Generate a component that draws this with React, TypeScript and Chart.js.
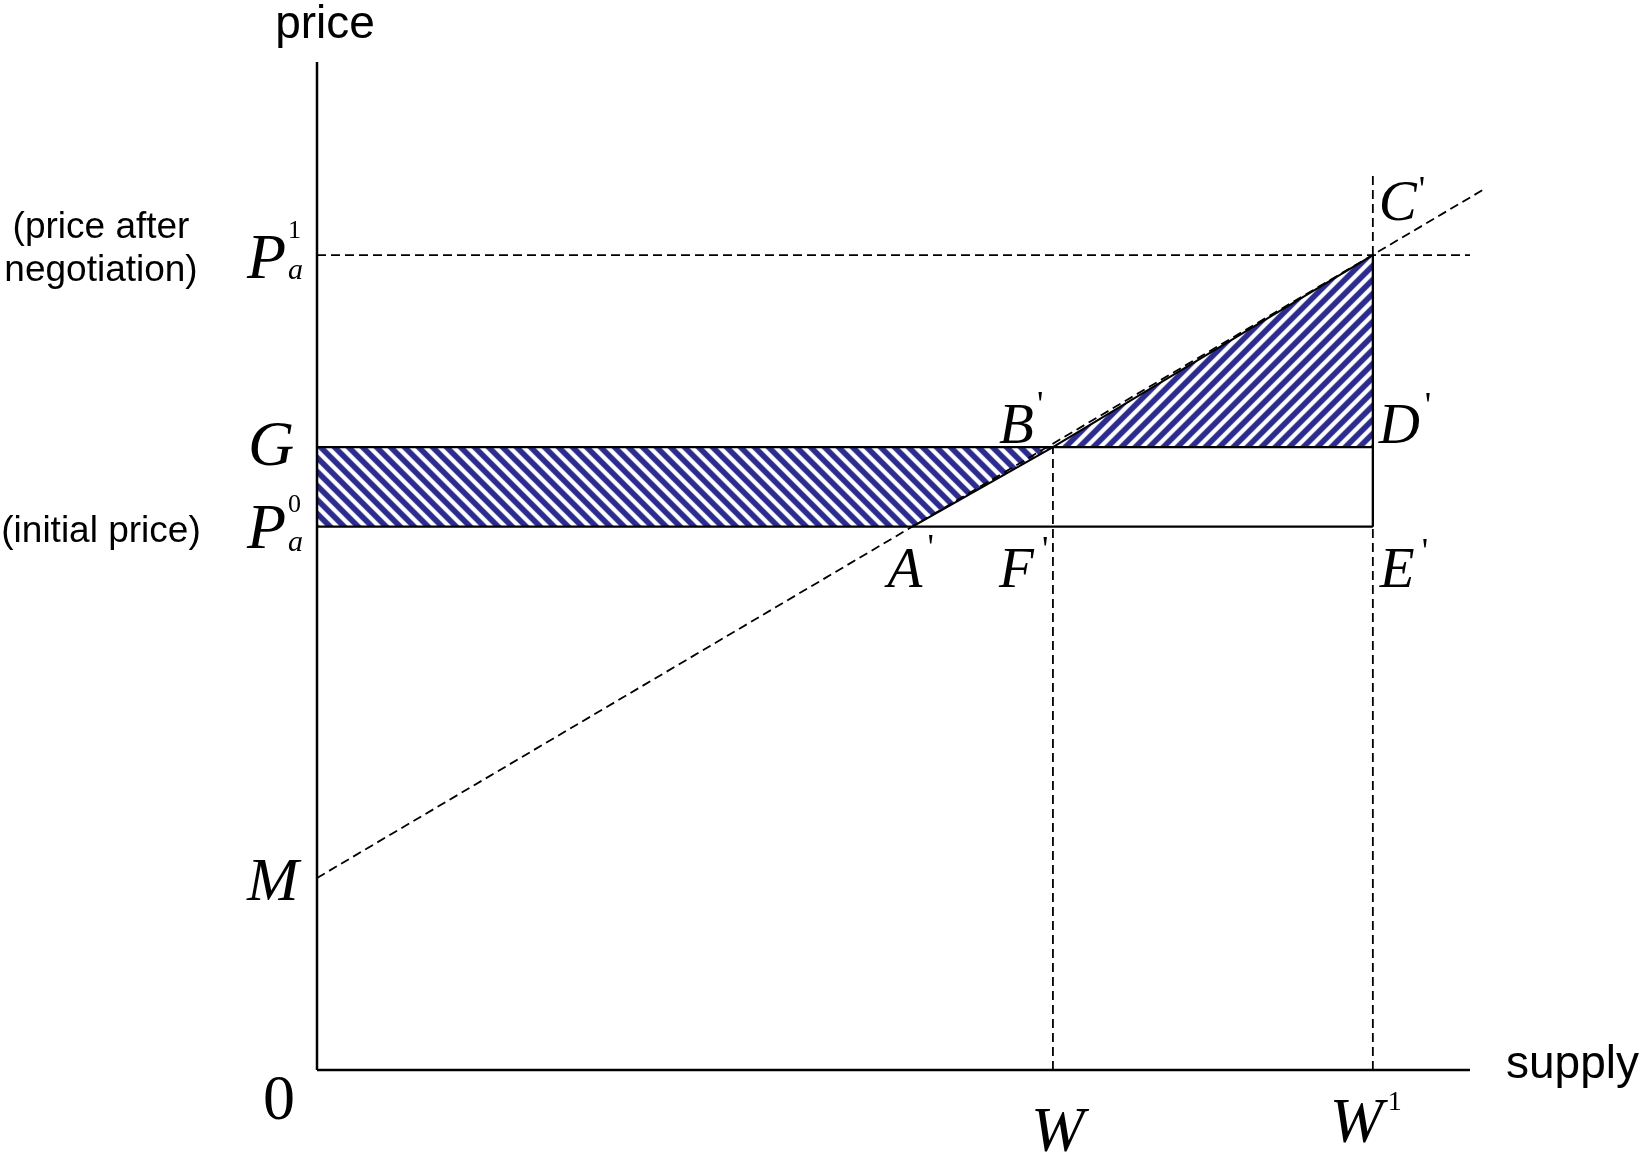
import React, { useEffect, useRef } from "react";
import { Chart, registerables } from "chart.js";

Chart.register(...registerables);

// ---- data (chart units) ----
const supplyLevels = [6.97, 10.0]; // W, W^1
const priceLevels = [8.085, 6.18, 5.39, 1.905]; // P_a^1, G, P_a^0, M
const curveX = [0, 5.64, 6.97, 10.0, 11.04]; // M, A', B', C', end
const curveY = [1.905, 5.39, 6.18, 8.085, 8.73];
const axisMax = [10.92, 10.0]; // x-axis end, y-axis top
const guideTop = 8.88; // top of the dashed vertical above C'
const axisLabels = ["price", "supply"];
const sideNotes = ["(price after", "negotiation)", "(initial price)"];
const pointLabels = ["A", "B", "C", "D", "E", "F"];

const [W, W1] = supplyLevels;
const [P1, G, P0, M] = priceLevels;

function makeHatch(dir: 1 | -1): CanvasPattern | string {
  const p = 14;
  const c = document.createElement("canvas");
  c.width = p;
  c.height = p;
  const g = c.getContext("2d");
  if (!g) return "rgba(45,45,145,0.5)";
  const img = g.createImageData(p, p);
  for (let y = 0; y < p; y++) {
    for (let x = 0; x < p; x++) {
      const s = dir === 1 ? x + y : x - y;
      const t = ((((s + 0.5) % p) + p) % p) / p;
      const d = Math.min(t, 1 - t); // 0..0.5
      let v: number;
      if (d < 0.2) v = 1;
      else if (d > 0.37) v = 0;
      else {
        const u = (d - 0.2) / 0.17;
        v = 1 - u * u * (3 - 2 * u);
      }
      const i = (y * p + x) * 4;
      img.data[i] = Math.round(255 + (44 - 255) * v);
      img.data[i + 1] = Math.round(255 + (44 - 255) * v);
      img.data[i + 2] = Math.round(255 + (142 - 255) * v);
      img.data[i + 3] = 255;
    }
  }
  g.putImageData(img, 0, 0);
  const pat = g.createPattern(c, "repeat");
  return pat || "rgba(45,45,145,0.5)";
}

const labelPlugin = {
  id: "econLabels",
  afterDatasetsDraw(chart: any) {
    const ctx = chart.ctx as CanvasRenderingContext2D;
    const xs = chart.scales.x;
    const ys = chart.scales.y;
    const px = (v: number) => xs.getPixelForValue(v);
    const py = (v: number) => ys.getPixelForValue(v);
    const serifI = (s: number) => `italic ${s}px "Liberation Serif", "DejaVu Serif", serif`;
    const serif = (s: number) => `${s}px "Liberation Serif", "DejaVu Serif", serif`;
    const sans = (s: number) => `${s}px "Liberation Sans", Arial, sans-serif`;
    const t = (text: string, x: number, y: number, font: string, align: CanvasTextAlign = "left") => {
      ctx.font = font;
      ctx.textAlign = align;
      ctx.textBaseline = "alphabetic";
      ctx.fillStyle = "#000";
      ctx.fillText(text, x, y);
    };
    ctx.save();
    const X0 = px(0);
    const Y0 = py(0);
    // axis titles
    t(axisLabels[0], X0 + 8, py(axisMax[1]) - 24, sans(46), "center");
    t(axisLabels[1], px(axisMax[0]) + 36, Y0 + 8, sans(46), "left");
    // side notes
    t(sideNotes[0], 101, py(P1) - 17, sans(37), "center");
    t(sideNotes[1], 101, py(P1) + 26, sans(37), "center");
    t(sideNotes[2], 101, py(P0) + 15, sans(37), "center");
    // price letters
    const LX = X0 - 70;
    t("P", LX, py(P1) + 23, serifI(64));
    t("1", LX + 41, py(P1) - 17, serif(26));
    t("a", LX + 41, py(P1) + 24, serifI(30));
    t("G", LX + 1, py(G) + 18, serifI(64));
    t("P", LX, py(P0) + 21, serifI(64));
    t("0", LX + 41, py(P0) - 15, serif(26));
    t("a", LX + 41, py(P0) + 24, serifI(30));
    t("M", LX, py(M) + 22, serifI(62));
    t("0", X0 - 38, Y0 + 49, serif(64), "center");
    // supply letters
    t("W", px(W) - 22, Y0 + 81, serifI(64));
    t("W", px(W1) - 43, Y0 + 72, serifI(64));
    t("1", px(W1) + 15, Y0 + 40, serif(28));
    // point labels
    const pf = serifI(57);
    const pr = serif(36);
    const [lA, lB, lC, lD, lE, lF] = pointLabels;
    t(lA, px(curveX[1]) - 25, py(P0) + 60, pf);
    t("'", px(curveX[1]) + 15, py(P0) + 32, pr);
    t(lF, px(W) - 54, py(P0) + 60, pf);
    t("'", px(W) - 11, py(P0) + 34, pr);
    t(lE, px(W1) + 7, py(P0) + 60, pf);
    t("'", px(W1) + 49, py(P0) + 36, pr);
    t(lB, px(W) - 54, py(G) - 4, pf);
    t("'", px(W) - 16, py(G) - 31, pr);
    t(lD, px(W1) + 6, py(G) - 4, pf);
    t("'", px(W1) + 52, py(G) - 30, pr);
    t(lC, px(W1) + 6, py(P1) - 35, pf);
    t("'", px(W1) + 46, py(P1) - 54, pr);
    ctx.restore();
  },
};

export default function App() {
  const ref = useRef<HTMLCanvasElement | null>(null);
  useEffect(() => {
    const canvas = ref.current;
    if (!canvas) return;
    const hatchBack = makeHatch(-1);
    const hatchFwd = makeHatch(1);
    const Ax = curveX[1];
    const base = { showLine: true, pointRadius: 0, pointHoverRadius: 0, fill: false, clip: false as any, borderColor: "#000" };
    const solid = (pts: { x: number; y: number }[], w: number) => ({ ...base, data: pts, borderWidth: w, order: 0 });
    const dashed = (pts: { x: number; y: number }[], w: number) => ({ ...base, data: pts, borderWidth: w, borderDash: [9, 5], order: 1 });
    const datasets: any[] = [
      // hatched areas
      {
        ...base,
        data: [
          { x: 0, y: G },
          { x: W, y: G },
          { x: Ax, y: P0 },
          { x: 0, y: P0 },
          { x: 0, y: G },
        ],
        fill: "shape",
        backgroundColor: hatchBack,
        borderWidth: 0,
        order: 5,
      },
      {
        ...base,
        data: [
          { x: W, y: G },
          { x: W1, y: P1 },
          { x: W1, y: G },
          { x: W, y: G },
        ],
        fill: "shape",
        backgroundColor: hatchFwd,
        borderWidth: 0,
        order: 5,
      },
      // dashed supply curve
      dashed(curveX.map((x, i) => ({ x, y: curveY[i] })).filter((_, i) => i === 0 || i === curveX.length - 1), 1.8),
      // dashed guides
      dashed([{ x: 0, y: P1 }, { x: axisMax[0], y: P1 }], 1.8),
      dashed([{ x: W, y: 0 }, { x: W, y: G }], 1.8),
      dashed([{ x: W1, y: 0 }, { x: W1, y: P0 }], 1.8),
      dashed([{ x: W1, y: P1 }, { x: W1, y: guideTop }], 1.8),
      // solid lines
      solid([{ x: 0, y: G }, { x: W1, y: G }], 2.3),
      solid([{ x: 0, y: P0 }, { x: W1, y: P0 }], 2.3),
      solid([{ x: W1, y: P0 }, { x: W1, y: P1 }], 2.3),
      solid([{ x: Ax, y: P0 }, { x: W, y: G }, { x: W1, y: P1 }], 2),
      // axes
      solid([{ x: 0, y: 0 }, { x: 0, y: axisMax[1] }], 2.5),
      solid([{ x: 0, y: 0 }, { x: axisMax[0], y: 0 }], 2.5),
    ];
    const chart = new Chart(canvas, {
      type: "scatter",
      data: { datasets },
      options: {
        animation: false,
        responsive: false,
        devicePixelRatio: 1,
        events: [],
        layout: { padding: { left: 317, top: 62, right: 153, bottom: 86 } },
        plugins: { legend: { display: false }, tooltip: { enabled: false }, title: { display: false } },
        scales: {
          x: { type: "linear", min: 0, max: 11.1, display: false },
          y: { type: "linear", min: 0, max: 10, display: false },
        },
      },
      plugins: [labelPlugin],
    } as any);
    return () => chart.destroy();
  }, []);
  return (
    <div style={{ position: "absolute", left: 0, top: 0, width: 1642, height: 1156, background: "#fff" }}>
      <canvas ref={ref} width={1642} height={1156} style={{ display: "block", width: 1642, height: 1156 }} />
    </div>
  );
}
